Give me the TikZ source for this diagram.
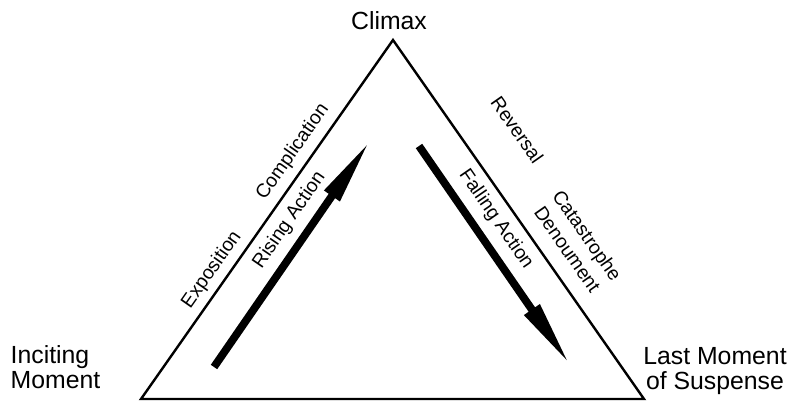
\documentclass[tikz,border=0pt]{standalone}
\usepackage{fontspec}
\setmainfont{Liberation Sans}
\usetikzlibrary{arrows.meta}
\tikzstyle{corner} = [inner sep=0pt, font=\fontsize{24.8}{25}\selectfont, align=center]
\tikzstyle{phase} = [inner sep=0pt, font=\fontsize{19.3}{24}\selectfont, align=center, sloped]
\tikzstyle{action} = [line width=7.8pt, -{Triangle[length=68pt,width=17pt]}]

\begin{document}
\begin{tikzpicture}[x=1pt,y=-1pt]
\useasboundingbox (0,0) rectangle (790,401);
\coordinate (incite) at (141,399);
\coordinate (top) at (393,40);
\coordinate (suspense) at (644,399);
\draw [line width=2.4pt] (incite) -- (top) -- (suspense) -- cycle;
% labels along the sides
\path (incite) -- node[phase, pos=0.334, above=7pt] (expo) {Exposition}
  node[phase, pos=0.66, above=8.5pt] (compl) {Complication} (top);
\path (top) -- node[phase, pos=0.331, above=43pt] (rev) {Reversal}
  node[phase, pos=0.62, above=16pt] (cat) {Catastrophe\\Denoument} (suspense);
% actions
\coordinate (rise0) at (214,367);
\coordinate (rise1) at (370.5,140);
\coordinate (fall0) at (419,146);
\coordinate (fall1) at (570.5,365.5);
\draw [action] (rise0) -- node[phase, pos=0.594, above=8.3pt] (rising) {Rising Action} (rise1);
\draw [action] (fall0) -- node[phase, pos=0.39, above=8.8pt] (falling) {Falling Action} (fall1);
% corners
\node[corner] (climax) at (389,21) {Climax};
\node[corner, anchor=west, align=left] (inciting) at (10.5,367) {Inciting\\Moment};
\node[corner] (last) at (715,371) {Last Moment\\of Suspense};
\end{tikzpicture}
\end{document}
